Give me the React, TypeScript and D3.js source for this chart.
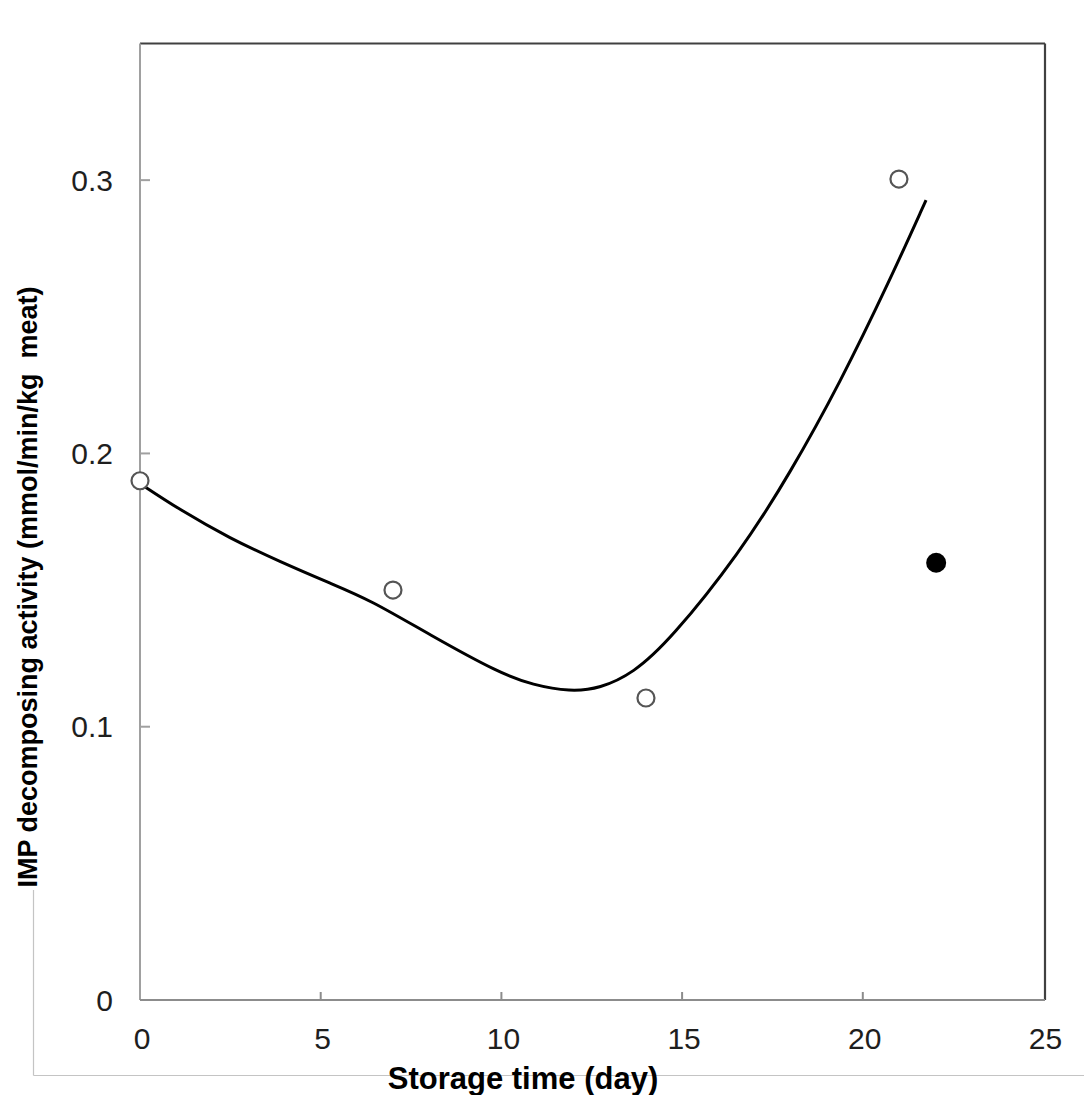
import React from "react";
import * as d3 from "d3";

const xTicks = [0, 5, 10, 15, 20, 25];
const yTicks = [0, 0.1, 0.2, 0.3];
const yTickLabels = ["0", "0.1", "0.2", "0.3"];

const openDays = [0, 7, 14, 21];
const openValues = [0.19, 0.15, 0.1105, 0.3004];
const filledDays = [22.03];
const filledValues = [0.16];

const curveDays = [0, 1.11, 2.49, 3.87, 5.26, 6.37, 8.02, 9.96, 10.87, 11.9, 12.73, 13.64, 14.67, 16.6, 17.99, 19.37, 20.75, 21.75];
const curveValues = [0.189, 0.1793, 0.1689, 0.1604, 0.1525, 0.1464, 0.1336, 0.1195, 0.1153, 0.1128, 0.114, 0.1195, 0.1317, 0.1636, 0.1928, 0.2258, 0.2634, 0.2927];

const xLabel = "Storage time (day)";
const yLabel = "IMP decomposing activity (mmol/min/kg  meat)";

export default function App() {
  const W = 1084, H = 1095;
  const left = 140, right = 1045, top = 43.5, bottom = 1000;
  const x = d3.scaleLinear().domain([0, 25]).range([left, 1043.5]);
  const y = d3.scaleLinear().domain([0, 0.35]).range([bottom, top]);
  const line = d3
    .line<number>()
    .x((_, i) => x(curveDays[i]))
    .y((d) => y(d))
    .curve(d3.curveBasis);
  const font = "'Liberation Sans', Arial, sans-serif";
  return (
    <svg
      width={W}
      height={H}
      style={{ position: "absolute", left: 0, top: 0, background: "#fff" }}
      fontFamily={font}
    >
      {/* outer light frame */}
      <line x1={33.5} y1={890} x2={33.5} y2={1075.5} stroke="#c4c4c4" strokeWidth={1.2} />
      <line x1={33.5} y1={1075.5} x2={W} y2={1075.5} stroke="#c4c4c4" strokeWidth={1.2} />

      {/* plot frame */}
      <line x1={left} y1={top} x2={right} y2={top} stroke="#404040" strokeWidth={2.2} />
      <line x1={right} y1={top} x2={right} y2={bottom} stroke="#404040" strokeWidth={2.2} />
      <line x1={left} y1={top} x2={left} y2={bottom} stroke="#a0a0a0" strokeWidth={2} />
      <line x1={left} y1={bottom} x2={right} y2={bottom} stroke="#8c8c8c" strokeWidth={2} />

      {/* y ticks */}
      {yTicks.map((t, i) => (
        <g key={"y" + i}>
          {i > 0 && <line x1={left} x2={left + 10} y1={y(t)} y2={y(t)} stroke="#a0a0a0" strokeWidth={2} />}
          <text x={113} y={y(t)} textAnchor="end" dominantBaseline="central" fontSize={30} fill="#1e1e1e">
            {yTickLabels[i]}
          </text>
        </g>
      ))}

      {/* x ticks */}
      {xTicks.map((t, i) => (
        <g key={"x" + i}>
          {i > 0 && i < xTicks.length - 1 && (
            <line x1={x(t)} x2={x(t)} y1={bottom} y2={bottom - 8} stroke="#8c8c8c" strokeWidth={2} />
          )}
          <text x={x(t) + 2} y={1049} textAnchor="middle" fontSize={30} fill="#1e1e1e">
            {t}
          </text>
        </g>
      ))}

      {/* curve */}
      <path d={line(curveValues) || ""} fill="none" stroke="#000" strokeWidth={3} />

      {/* open points */}
      {openDays.map((d, i) => (
        <circle key={"o" + i} cx={x(d)} cy={y(openValues[i])} r={8.5} fill="#fff" stroke="#555" strokeWidth={2.2} />
      ))}
      {filledDays.map((d, i) => (
        <circle key={"f" + i} cx={x(d)} cy={y(filledValues[i])} r={10} fill="#000" />
      ))}

      {/* axis titles */}
      <text x={523} y={1089} textAnchor="middle" fontSize={31} fontWeight="bold" fill="#000">
        {xLabel}
      </text>
      <text
        transform={`translate(37,587) rotate(-90)`}
        textAnchor="middle"
        fontSize={27}
        fontWeight="bold"
        fill="#000"
        style={{ whiteSpace: "pre" }}
      >
        {yLabel}
      </text>
    </svg>
  );
}
